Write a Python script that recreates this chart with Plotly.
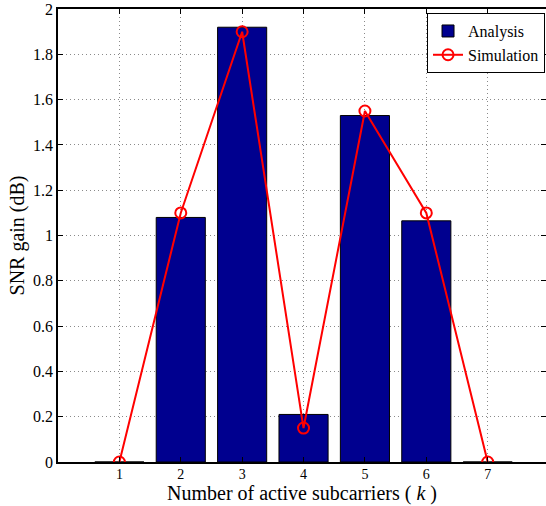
import plotly.graph_objects as go

k_values = [1, 2, 3, 4, 5, 6, 7]
analysis_gain = [0.0, 1.08, 1.92, 0.21, 1.53, 1.065, 0.0]
simulation_gain = [0.0, 1.1, 1.9, 0.15, 1.55, 1.1, 0.0]
y_ticks = [0, 0.2, 0.4, 0.6, 0.8, 1, 1.2, 1.4, 1.6, 1.8, 2]

font_family = "Liberation Serif"

fig = go.Figure()
fig.add_trace(go.Bar(
    x=k_values, y=analysis_gain, name="Analysis", width=0.8,
    marker=dict(color="#00008F", line=dict(color="black", width=1)),
))
fig.add_trace(go.Scatter(
    x=k_values, y=simulation_gain, name="Simulation", mode="lines+markers",
    line=dict(color="#FF0000", width=2),
    marker=dict(symbol="circle-open", size=11, color="#FF0000", line=dict(width=2)),
))

axis_common = dict(
    showline=True, linecolor="black", linewidth=1.5, mirror="allticks",
    ticks="inside", ticklen=5, tickcolor="black",
    showgrid=True, gridcolor="#8a8a8a", griddash="1px,3px", gridwidth=1,
    zeroline=False, automargin=False, ticklabeloverflow="allow",
)

fig.update_xaxes(
    range=[0, 7.95], tickmode="array", tickvals=k_values,
    tickfont=dict(family=font_family, size=14, color="black"),
    ticklabelstandoff=-2,
    title=dict(text="Number of active subcarriers ( <i>k</i> )",
               font=dict(family=font_family, size=20, color="black"), standoff=0),
    **axis_common,
)
fig.update_yaxes(
    range=[0, 2.0005], tickmode="array", tickvals=y_ticks,
    ticktext=[("%g" % v) for v in y_ticks],
    tickfont=dict(family=font_family, size=16, color="black"),
    title=dict(text="SNR gain (dB)",
               font=dict(family=font_family, size=20, color="black"), standoff=3),
    **axis_common,
)

fig.update_layout(
    width=546, height=506,
    margin=dict(l=58, r=0, t=9, b=44, autoexpand=False),
    paper_bgcolor="white", plot_bgcolor="white",
    showlegend=True,
    font=dict(family=font_family, color="black"),
    legend=dict(
        x=0.998, y=0.991, xanchor="right", yanchor="top",
        bgcolor="white", bordercolor="black", borderwidth=1,
        font=dict(family=font_family, size=16, color="black"),
        tracegroupgap=0, itemwidth=30,
    ),
    bargap=0.2,
)

fig.write_html(
    "out.html",
    config={"displayModeBar": False},
    post_script="document.body.style.margin='0px';document.body.style.overflow='hidden';",
)
